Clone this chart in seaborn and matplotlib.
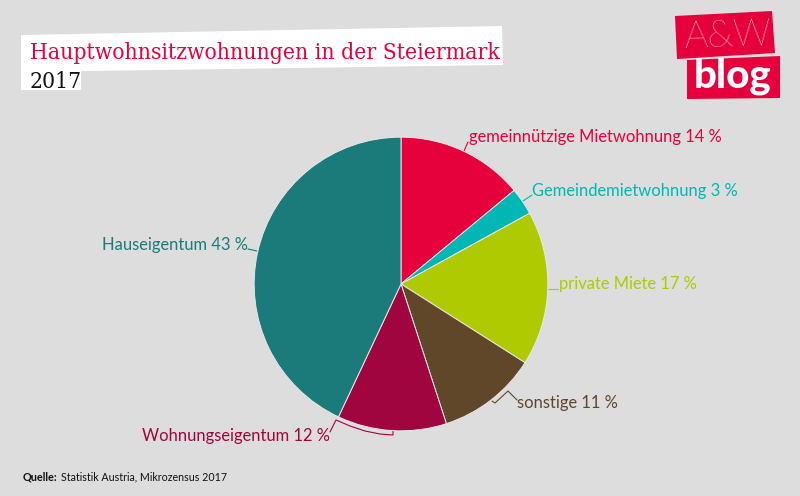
import matplotlib
matplotlib.use('Agg')
import matplotlib.pyplot as plt
import seaborn as sns
from matplotlib.patches import Polygon

categories = ['gemeinnützige Mietwohnung', 'Gemeindemietwohnung', 'private Miete',
              'sonstige', 'Wohnungseigentum', 'Hauseigentum']
shares = [14, 3, 17, 11, 12, 43]
slice_colors = ['#e6003c', '#00b7b5', '#afca00', '#60472a', '#a0053f', '#1a7b7a']

BG = '#dddddd'
RED = '#e6003c'

sns.set_theme(style='white', rc={'figure.facecolor': BG, 'savefig.facecolor': BG})
plt.rcParams['font.family'] = ['Lato', 'DejaVu Sans']

fig = plt.figure(figsize=(8, 4.96), dpi=100)

# pixel overlay for title boxes, logo, labels and leader lines
bg = fig.add_axes([0, 0, 1, 1])
bg.set_xlim(0, 800)
bg.set_ylim(496, 0)
bg.axis('off')

# pie axes: centre 401,284 radius 147
ax = fig.add_axes([(401 - 147) / 800, (496 - 284 - 147) / 496, 294 / 800, 294 / 496])
ax.pie(shares, colors=slice_colors, startangle=90, counterclock=False, radius=1,
       wedgeprops={'edgecolor': '#e8e8e8', 'linewidth': 0.7})
ax.set_xlim(-1.001, 1.001)
ax.set_ylim(-1.001, 1.001)

# title
bg.add_patch(Polygon([(21, 35), (502, 26), (503, 65), (21, 72)], closed=True, fc='white', ec='none'))
bg.add_patch(Polygon([(21, 70), (81, 70), (81, 90), (21, 90)], closed=True, fc='white', ec='none'))
bg.text(30, 59, 'Hauptwohnsitzwohnungen in der Steiermark', color=RED, fontsize=16.4,
        family='DejaVu Serif', stretch='condensed', va='baseline', ha='left')
bg.text(30, 88, '2017', color='#111111', fontsize=16.4, family='DejaVu Serif', stretch='condensed',
        va='baseline', ha='left')

# logo
bg.add_patch(Polygon([(675, 16), (772, 11), (775, 53), (677, 59)], closed=True, fc=RED, ec='none'))
bg.add_patch(Polygon([(687, 60), (780, 56), (780, 98), (687, 99)], closed=True, fc=RED, ec='none'))
bg.text(727, 36, 'A&W', color='white', fontsize=27, family='Lato', weight='light', rotation=2,
        ha='center', va='center')
bg.text(733, 76, 'blog', color='white', fontsize=29, family='Lato', weight='black', ha='center', va='center')

# labels
labels = [f'{c} {s} %' for c, s in zip(categories, shares)]
positions = [(469, 142, 'left'), (532, 196, 'left'), (559, 289, 'left'),
             (517, 408, 'left'), (330, 441, 'right'), (248, 250, 'right')]
for lab, col, (x, y, ha) in zip(labels, slice_colors, positions):
    bg.text(x, y, lab, color=col, fontsize=11.9, ha=ha, va='baseline')

# leader lines
leaders = [
    ([468, 464], [142, 151], slice_colors[0]),
    ([523, 532], [201, 195], slice_colors[1]),
    ([548, 558], [289, 289], slice_colors[2]),
    ([492, 495, 508, 517], [401, 403, 391, 400], slice_colors[3]),
    ([330, 336, 350, 365, 380, 393, 393], [432, 420, 426, 431, 434, 435, 431], slice_colors[4]),
    ([248, 257], [249, 251], slice_colors[5]),
]
for xs, ys, col in leaders:
    bg.plot(xs, ys, color=col, lw=0.8)

# source
bg.text(23, 480, 'Quelle:', color='#111111', fontsize=7.8, weight='bold', va='baseline')
bg.text(61, 480, 'Statistik Austria, Mikrozensus 2017', color='#111111', fontsize=7.7, va='baseline')

fig.savefig('out.png', dpi=100)
